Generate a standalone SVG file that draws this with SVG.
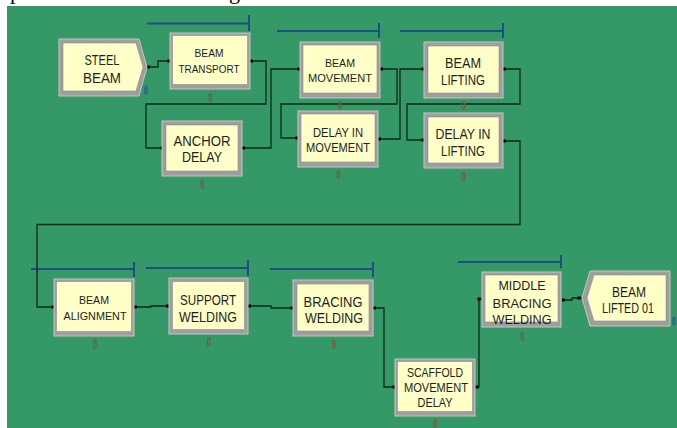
<svg xmlns="http://www.w3.org/2000/svg" width="677" height="428" viewBox="0 0 677 428">
<style>
.bg{fill:#349966}
.fr{fill:#9e9e9e;stroke:#c6c6c6;stroke-width:1}
.in{fill:#ffffc8;stroke:#8c8c8c;stroke-width:0.6}
.t{font-family:"Liberation Sans","DejaVu Sans",sans-serif;fill:#1e1e1e;text-anchor:middle}
.s11{font-size:11px}
.s13{font-size:13px}
.s15{font-size:15px}
.cn{fill:none;stroke:#102818;stroke-width:1.3}
.dot{fill:#000}
.bar{fill:none;stroke:#1d4f86;stroke-width:2}
.mk{fill:none;stroke:#6e6040;stroke-width:1.3}
.mkb{fill:none;stroke:#2a5a9a;stroke-width:1.2}
.cap{font-family:"Liberation Serif",serif;font-size:22px;fill:#000}
</style>
<rect width="677" height="428" fill="#fff"/>
<text class="cap" x="10" y="-1">p</text>
<text class="cap" x="229" y="-1">g</text>
<rect class="bg" x="7" y="6" width="670" height="422"/>

<g id="bars">
<path class="bar" d="M147,23.5 H249 M249,15 V31"/>
<path class="bar" d="M277,31 H379 M379,23 V38"/>
<path class="bar" d="M400,31 H503 M503,23 V38"/>
<path class="bar" d="M31,269 H134 M134,262 V277"/>
<path class="bar" d="M146,268 H248 M248,260 V276"/>
<path class="bar" d="M270,269 H373 M373,262 V277"/>
<path class="bar" d="M458,262 H561 M561,255 V268"/>
</g>

<g id="connectors">
<path class="cn" d="M147,67 H158 V61 H170"/>
<path class="cn" d="M251,61 H266 V104 H146 V148 H162"/>
<path class="cn" d="M243,148 H271 V69 H299"/>
<path class="cn" d="M381,69 H397 V104 H281 V138 H297"/>
<path class="cn" d="M379,139 H400 V69 H423"/>
<path class="cn" d="M504,69 H520 V104 H407 V140 H423"/>
<path class="cn" d="M504,141 H520 V224.5 H37 V307 H53"/>
<path class="cn" d="M135,307 H151 V306 H168"/>
<path class="cn" d="M249,306 H271 V308 H292"/>
<path class="cn" d="M374,308 H384 V387 H394"/>
<path class="cn" d="M476,387 H479 V299 H482"/>
<path class="cn" d="M563,300 H572 V298 H582"/>
<g class="dot">
<rect x="147" y="65.5" width="3" height="3"/><rect x="167.5" y="59.5" width="3" height="3"/>
<rect x="250" y="59.5" width="3" height="3"/><rect x="160.5" y="146.5" width="3" height="3"/>
<rect x="242" y="146.5" width="3" height="3"/><rect x="297.5" y="67.5" width="3" height="3"/>
<rect x="380" y="67.5" width="3" height="3"/><rect x="295.5" y="136.5" width="3" height="3"/>
<rect x="378" y="137.5" width="3" height="3"/><rect x="421.5" y="67.5" width="3" height="3"/>
<rect x="503" y="67.5" width="3" height="3"/><rect x="421.5" y="138.5" width="3" height="3"/>
<rect x="503" y="139.5" width="3" height="3"/><rect x="51.5" y="305.5" width="3" height="3"/>
<rect x="134" y="305.5" width="3" height="3"/><rect x="166" y="304.5" width="3" height="3"/>
<rect x="248" y="304.5" width="3" height="3"/><rect x="290.5" y="306.5" width="3" height="3"/>
<rect x="373" y="306.5" width="3" height="3"/><rect x="392.5" y="385.5" width="3" height="3"/>
<rect x="475.5" y="385.5" width="3" height="3"/><rect x="477.5" y="297.5" width="3" height="3"/>
<rect x="562" y="298.5" width="3" height="3"/><rect x="577.5" y="296.5" width="3" height="3"/>
</g>
</g>

<g id="steel-beam">
<polygon class="fr" points="59,39 139,39 147,67 139,96 59,96"/>
<polygon class="in" points="63,43 136,43 143,67 136,91 63,91"/>
<text class="t s15" x="102" y="65" textLength="35" lengthAdjust="spacingAndGlyphs">STEEL</text>
<text class="t s15" x="102" y="83" textLength="38" lengthAdjust="spacingAndGlyphs">BEAM</text>
<rect class="mkb" x="145" y="86" width="2" height="8" rx="1"/>
</g>

<g id="beam-transport">
<rect class="fr" x="170" y="33" width="80" height="56"/>
<rect class="in" x="172.5" y="35.5" width="75" height="49"/>
<text class="t s11" x="209" y="57" textLength="29" lengthAdjust="spacingAndGlyphs">BEAM</text>
<text class="t s11" x="209" y="73" textLength="61" lengthAdjust="spacingAndGlyphs">TRANSPORT</text>
<rect class="mk" x="209" y="94" width="2.5" height="7" rx="1.2"/>
</g>

<g id="anchor-delay">
<rect class="fr" x="162" y="121" width="80" height="55"/>
<rect class="in" x="166" y="125" width="72" height="46"/>
<text class="t s15" x="202" y="146" textLength="57" lengthAdjust="spacingAndGlyphs">ANCHOR</text>
<text class="t s15" x="202" y="162" textLength="40" lengthAdjust="spacingAndGlyphs">DELAY</text>
<rect class="mk" x="201" y="181" width="2.5" height="7" rx="1.2"/>
</g>

<g id="beam-movement">
<rect class="fr" x="300" y="42" width="80" height="56"/>
<rect class="in" x="303" y="45" width="74" height="48"/>
<text class="t s11" x="340" y="67" textLength="30" lengthAdjust="spacingAndGlyphs">BEAM</text>
<text class="t s11" x="340" y="82" textLength="64" lengthAdjust="spacingAndGlyphs">MOVEMENT</text>
<rect class="mk" x="339" y="102" width="2.5" height="7" rx="1.2"/>
</g>

<g id="delay-in-movement">
<rect class="fr" x="298" y="111" width="80" height="56"/>
<rect class="in" x="301" y="114" width="74" height="48"/>
<text class="t s13" x="338" y="137" textLength="50" lengthAdjust="spacingAndGlyphs">DELAY IN</text>
<text class="t s13" x="338" y="152" textLength="64" lengthAdjust="spacingAndGlyphs">MOVEMENT</text>
<rect class="mk" x="337" y="171" width="2.5" height="7" rx="1.2"/>
</g>

<g id="beam-lifting">
<rect class="fr" x="424" y="42" width="79" height="56"/>
<rect class="in" x="428" y="46" width="71" height="47"/>
<text class="t s15" x="463" y="68" textLength="36" lengthAdjust="spacingAndGlyphs">BEAM</text>
<text class="t s15" x="463" y="85" textLength="44" lengthAdjust="spacingAndGlyphs">LIFTING</text>
<rect class="mk" x="462" y="102" width="2.5" height="7" rx="1.2"/>
</g>

<g id="delay-in-lifting">
<rect class="fr" x="424" y="113" width="79" height="55"/>
<rect class="in" x="428" y="117" width="71" height="46"/>
<text class="t s15" x="463" y="139" textLength="55" lengthAdjust="spacingAndGlyphs">DELAY IN</text>
<text class="t s15" x="463" y="156" textLength="44" lengthAdjust="spacingAndGlyphs">LIFTING</text>
<rect class="mk" x="462" y="173" width="2.5" height="7" rx="1.2"/>
</g>

<g id="beam-alignment">
<rect class="fr" x="54" y="279" width="80" height="57"/>
<rect class="in" x="56.5" y="281.5" width="75" height="50"/>
<text class="t s11" x="94" y="304" textLength="30" lengthAdjust="spacingAndGlyphs">BEAM</text>
<text class="t s11" x="95" y="320" textLength="63" lengthAdjust="spacingAndGlyphs">ALIGNMENT</text>
<rect class="mk" x="93.5" y="340" width="2.5" height="8" rx="1.2"/>
</g>

<g id="support-welding">
<rect class="fr" x="169" y="278" width="79" height="56"/>
<rect class="in" x="172.5" y="281.5" width="72" height="48"/>
<text class="t s15" x="208" y="305" textLength="56" lengthAdjust="spacingAndGlyphs">SUPPORT</text>
<text class="t s15" x="208" y="322" textLength="58" lengthAdjust="spacingAndGlyphs">WELDING</text>
<rect class="mk" x="207.5" y="338" width="2.5" height="8" rx="1.2"/>
</g>

<g id="bracing-welding">
<rect class="fr" x="293" y="280" width="80" height="56"/>
<rect class="in" x="297" y="284" width="72" height="47"/>
<text class="t s15" x="333" y="307" textLength="59" lengthAdjust="spacingAndGlyphs">BRACING</text>
<text class="t s15" x="334" y="323" textLength="58" lengthAdjust="spacingAndGlyphs">WELDING</text>
<rect class="mk" x="332.5" y="340" width="2.5" height="8" rx="1.2"/>
</g>

<g id="scaffold-movement-delay">
<rect class="fr" x="395" y="359" width="80" height="57"/>
<rect class="in" x="397.5" y="361.5" width="75" height="50"/>
<text class="t s13" x="435" y="377" textLength="56" lengthAdjust="spacingAndGlyphs">SCAFFOLD</text>
<text class="t s13" x="436" y="392" textLength="64" lengthAdjust="spacingAndGlyphs">MOVEMENT</text>
<text class="t s13" x="435" y="407" textLength="35" lengthAdjust="spacingAndGlyphs">DELAY</text>
<rect class="mk" x="434" y="420" width="2.5" height="7" rx="1.2"/>
</g>

<g id="middle-bracing-welding">
<rect class="fr" x="482" y="272" width="79" height="55"/>
<rect class="in" x="485" y="275" width="73" height="47"/>
<text class="t s13" x="522" y="290" textLength="47" lengthAdjust="spacingAndGlyphs">MIDDLE</text>
<text class="t s13" x="522" y="308" textLength="59" lengthAdjust="spacingAndGlyphs">BRACING</text>
<text class="t s13" x="522" y="324" textLength="59" lengthAdjust="spacingAndGlyphs">WELDING</text>
<rect class="mk" x="521" y="333" width="2.5" height="7" rx="1.2"/>
</g>

<g id="beam-lifted-01">
<polygon class="fr" points="590,271 670,271 670,326 590,326 582,298"/>
<polygon class="in" points="594,275 666,275 666,321 594,321 587,298"/>
<text class="t s15" x="629" y="297" textLength="34" lengthAdjust="spacingAndGlyphs">BEAM</text>
<text class="t s15" x="628" y="313" textLength="52" lengthAdjust="spacingAndGlyphs">LIFTED 01</text>
<rect class="mkb" x="673" y="317" width="2" height="8" rx="1"/>
</g>
</svg>
